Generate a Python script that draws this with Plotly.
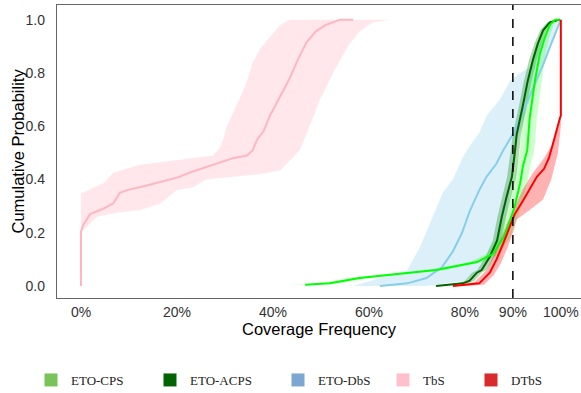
import plotly.graph_objects as go

# ---------------- data (coverage frequency as fraction, cumulative probability) ----------------
# TbS
tbs_x = [0, 0, 0.005, 0.019, 0.046, 0.067, 0.081, 0.096, 0.137, 0.165, 0.20, 0.233, 0.275, 0.317,
         0.346, 0.358, 0.367, 0.38, 0.394, 0.415, 0.435, 0.452, 0.47, 0.49, 0.51, 0.54, 0.567]
tbs_p = [0, 0.205, 0.23, 0.27, 0.29, 0.31, 0.35, 0.36, 0.377, 0.39, 0.407, 0.43, 0.456, 0.48,
         0.49, 0.51, 0.55, 0.58, 0.64, 0.71, 0.78, 0.85, 0.915, 0.957, 0.98, 1.0, 1.0]
tbs_hi_x = [0, 0, 0.005, 0.05, 0.067, 0.123, 0.165, 0.23, 0.275, 0.29, 0.296, 0.304, 0.317, 0.33,
            0.346, 0.358, 0.373, 0.394, 0.415, 0.435]
tbs_hi_p = [0.2, 0.35, 0.35, 0.39, 0.425, 0.455, 0.465, 0.48, 0.49, 0.52, 0.55, 0.6, 0.65, 0.7,
            0.77, 0.84, 0.89, 0.935, 0.98, 1.0]
tbs_lo_x = [0, 0.019, 0.033, 0.075, 0.123, 0.165, 0.20, 0.233, 0.26, 0.317, 0.373, 0.415, 0.435,
            0.456, 0.47, 0.483, 0.498, 0.512, 0.525, 0.54, 0.56, 0.58, 0.608, 0.644]
tbs_lo_p = [0.2, 0.235, 0.26, 0.275, 0.285, 0.31, 0.36, 0.37, 0.40, 0.41, 0.42, 0.435, 0.47,
            0.51, 0.57, 0.63, 0.70, 0.75, 0.80, 0.85, 0.91, 0.955, 0.99, 1.0]

# ETO-DbS
dbs_x = [0.623, 0.68, 0.72, 0.752, 0.775, 0.794, 0.81, 0.83, 0.845, 0.866, 0.88, 0.894, 0.90,
         0.92, 0.942, 0.963, 0.98, 0.995, 1.0]
dbs_p = [0.0, 0.01, 0.03, 0.07, 0.13, 0.2, 0.28, 0.36, 0.41, 0.46, 0.51, 0.55, 0.57,
         0.65, 0.74, 0.83, 0.91, 0.98, 1.0]
dbs_hi_x = [0.567, 0.68, 0.706, 0.727, 0.754, 0.775, 0.796, 0.81, 0.83, 0.846, 0.873, 0.894,
            0.915, 0.935, 0.956, 0.98, 1.0]
dbs_hi_p = [0.0, 0.06, 0.145, 0.235, 0.35, 0.40, 0.485, 0.525, 0.575, 0.64, 0.70, 0.77,
            0.80, 0.82, 0.91, 0.98, 1.0]
dbs_lo_x = [0.72, 0.80, 0.84, 0.87, 0.89, 0.90, 0.91, 0.93, 0.95, 0.97, 0.99, 1.0]
dbs_lo_p = [0.0, 0.02, 0.07, 0.15, 0.3, 0.45, 0.55, 0.67, 0.76, 0.86, 0.95, 1.0]

# ETO-ACPS
acps_x = [0.74, 0.796, 0.81, 0.825, 0.835, 0.852, 0.867, 0.877, 0.887, 0.898, 0.904, 0.908,
          0.92, 0.931, 0.942, 0.952, 0.963, 0.977, 0.998]
acps_p = [0.0, 0.01, 0.02, 0.05, 0.06, 0.11, 0.17, 0.26, 0.335, 0.41, 0.5, 0.57,
          0.67, 0.77, 0.85, 0.91, 0.96, 0.99, 1.0]
acps_lo_x = [0.73, 0.785, 0.80, 0.815, 0.826, 0.843, 0.858, 0.868, 0.878, 0.888, 0.895, 0.90,
             0.912, 0.923, 0.934, 0.945, 0.957, 0.972, 0.995]
acps_hi_x = [0.75, 0.806, 0.82, 0.835, 0.845, 0.862, 0.876, 0.886, 0.896, 0.907, 0.913, 0.917,
             0.928, 0.939, 0.95, 0.96, 0.97, 0.983, 1.0]

# ETO-CPS
cps_x = [0.467, 0.519, 0.58, 0.658, 0.74, 0.796, 0.825, 0.858, 0.88, 0.894, 0.904, 0.915,
         0.921, 0.93, 0.935, 0.946, 0.956, 0.967, 0.977, 0.988, 0.998]
cps_p = [0.005, 0.01, 0.03, 0.045, 0.06, 0.08, 0.09, 0.12, 0.18, 0.245, 0.3, 0.385,
         0.45, 0.51, 0.63, 0.77, 0.87, 0.935, 0.98, 1.0, 1.0]
cps_lo_x = [0.435, 0.50, 0.56, 0.64, 0.72, 0.78, 0.81, 0.845, 0.866, 0.88, 0.89, 0.90,
            0.907, 0.915, 0.92, 0.932, 0.944, 0.956, 0.968, 0.98, 0.995]
cps_hi_x = [0.48, 0.54, 0.60, 0.676, 0.76, 0.812, 0.84, 0.872, 0.894, 0.908, 0.918, 0.93,
            0.936, 0.945, 0.95, 0.96, 0.968, 0.976, 0.985, 0.995, 1.0]

# DTbS
dtbs_x = [0.775, 0.83, 0.852, 0.866, 0.88, 0.894, 0.904, 0.921, 0.942, 0.95, 0.965, 0.975,
          0.983, 0.994, 0.998, 1.0, 1.0]
dtbs_p = [0.0, 0.01, 0.05, 0.10, 0.16, 0.22, 0.27, 0.32, 0.385, 0.41, 0.44, 0.48,
          0.53, 0.61, 0.63, 0.64, 1.0]
dtbs_hi_x = [0.77, 0.82, 0.845, 0.86, 0.875, 0.89, 0.90, 0.92, 0.942, 0.963, 0.98, 0.995, 1.0]
dtbs_hi_p = [0.0, 0.015, 0.06, 0.115, 0.18, 0.245, 0.28, 0.36, 0.425, 0.475, 0.525, 0.6, 0.66]
dtbs_lo_x = [0.80, 0.84, 0.86, 0.875, 0.888, 0.90, 0.908, 0.935, 0.963, 0.98, 0.994, 1.0]
dtbs_lo_p = [0.0, 0.005, 0.04, 0.085, 0.14, 0.2, 0.25, 0.285, 0.325, 0.40, 0.50, 0.6]

target_coverage = 0.9
x_ticks = [0, 0.2, 0.4, 0.6, 0.8, 0.9, 1.0]
y_ticks = [0, 0.2, 0.4, 0.6, 0.8, 1.0]
x_title = "Coverage Frequency"
y_title = "Cumulative Probability"
legend_names = ["ETO-CPS", "ETO-ACPS", "ETO-DbS", "TbS", "DTbS"]
legend_colors = ["#78C459", "#006400", "#7BA7D0", "#FFC0CB", "#D92B2B"]

# ---------------- figure ----------------
W, H = 581, 393
ML, MR, MT, MB = 57, 0, 5, 95
fig = go.Figure()


def band_xy(x_a, p_a, x_b, p_b):
    return list(x_a) + list(x_b)[::-1], list(p_a) + list(p_b)[::-1]


bands = [
    (band_xy(tbs_hi_x, tbs_hi_p, tbs_lo_x, tbs_lo_p), "rgba(255,192,203,0.38)"),
    (band_xy(dbs_hi_x, dbs_hi_p, dbs_lo_x, dbs_lo_p), "rgba(135,206,235,0.3)"),
    (band_xy(acps_lo_x, acps_p, acps_hi_x, acps_p), "rgba(0,128,0,0.3)"),
    (band_xy(cps_lo_x, cps_p, cps_hi_x, cps_p), "rgba(0,255,0,0.2)"),
    (band_xy(dtbs_hi_x, dtbs_hi_p, dtbs_lo_x, dtbs_lo_p), "rgba(255,0,0,0.3)"),
]
for (bx, by), col in bands:
    fig.add_trace(go.Scatter(x=bx, y=by, fill="toself", fillcolor=col, mode="lines",
                             line=dict(width=0), hoverinfo="skip", showlegend=False))

lines = [
    (tbs_x, tbs_p, "#FFB6C1"),
    (dbs_x, dbs_p, "#87CEEB"),
    (acps_x, acps_p, "#006400"),
    (cps_x, cps_p, "#00FF00"),
    (dtbs_x, dtbs_p, "#FF0000"),
]
for lx, lp, col in lines:
    fig.add_trace(go.Scatter(x=lx, y=lp, mode="lines", line=dict(color=col, width=2),
                             showlegend=False))

fig.add_shape(type="line", x0=target_coverage, x1=target_coverage, xref="x",
              y0=0, y1=1, yref="paper", line=dict(color="black", width=1.5, dash="dash"))

legend_px = [31, 150, 278, 383, 471]
for i, (name, col) in enumerate(zip(legend_names, legend_colors)):
    key = "legend" if i == 0 else f"legend{i + 1}"
    fig.add_trace(go.Scatter(x=[None], y=[None], mode="markers", name=name,
                             marker=dict(symbol="square", size=13, color=col),
                             legend=key, showlegend=True))
    fig.update_layout({key: dict(x=legend_px[i] / W, xref="container", xanchor="left",
                                 y=(H - 380) / H, yref="container", yanchor="middle",
                                 orientation="h", bgcolor="rgba(0,0,0,0)",
                                 font=dict(family="Liberation Serif", size=13, color="#222"))})

axis_common = dict(showline=True, linecolor="#666666", linewidth=1.3, mirror=True,
                   showgrid=False, zeroline=False, ticks="", automargin=False,
                   tickfont=dict(family="Liberation Sans", size=14, color="#333"))

plot_w = W - ML - MR
plot_h = H - MT - MB
title_font = dict(family="Liberation Sans", size=16.5, color="black")
fig.add_annotation(text=x_title, xref="paper", yref="paper", x=0.5,
                   y=(H - MB - 329) / plot_h, xanchor="center", yanchor="middle",
                   showarrow=False, font=title_font)
fig.add_annotation(text=y_title, xref="paper", yref="paper", x=(17 - ML) / plot_w,
                   y=0.5, xanchor="center", yanchor="middle", textangle=-90,
                   showarrow=False, font=title_font)

fig.update_layout(
    width=W, height=H,
    margin=dict(l=ML, r=MR, t=MT, b=MB, autoexpand=False),
    paper_bgcolor="white", plot_bgcolor="white",
    xaxis=dict(range=[-0.05, 1.042], tickvals=x_ticks, tickformat=".0%",
               ticklabelstandoff=1, **axis_common),
    yaxis=dict(range=[-0.045, 1.055], tickvals=y_ticks, tickformat=".1f",
               ticklabelstandoff=8, **axis_common),
)

fig.write_html("out.html", config={"displayModeBar": False},
               post_script="document.body.style.margin='0';document.body.style.overflow='hidden';")
